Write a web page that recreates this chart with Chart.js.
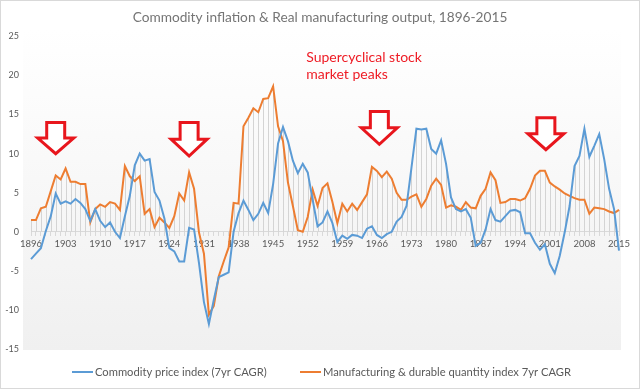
<!DOCTYPE html>
<html>
<head>
<meta charset="utf-8">
<style>
  body { margin: 0; background: #fff; }
  #wrap { width: 640px; height: 389px; position: relative; }
</style>
</head>
<body>
<div id="wrap">
    <canvas id="myChart"></canvas>
</div>

<script src="https://cdn.jsdelivr.net/npm/chart.js@4.4.1/dist/chart.umd.min.js"></script>

<script>
    // years 1896..2015
    var years = [];
    for (var y = 1896; y <= 2015; y++) years.push(String(y));

    // Commodity price index, 7yr CAGR (%)
    var commodity = [
        -3.5, -2.8, -2.1, 0.1, 2.0, 4.9, 3.6, 3.9, 3.6, 4.2,
        3.7, 2.9, 1.4, 2.9, 1.4, 0.6, 1.2, 0.0, -0.8, 2.0,
        4.6, 8.5, 10.0, 9.1, 9.3, 5.1, 4.0, 1.7, -2.1, -2.5,
        -3.8, -3.8, 0.5, 0.3, -4.0, -9.0, -11.8, -8.7, -5.8, -5.5,
        -5.2, 0.0, 2.4, 4.0, 2.8, 1.5, 2.3, 3.7, 2.4, 6.1,
        11.3, 13.4, 11.6, 9.1, 7.5, 8.7, 7.6, 4.1, 0.7, 1.2,
        2.6, 1.1, -1.3, -0.5, -0.9, -0.4, -0.5, -0.8, 0.4, 0.7,
        -0.4, -0.8, -0.3, 0.0, 1.3, 1.9, 3.3, 8.2, 13.2, 13.1,
        13.2, 10.6, 10.0, 11.7, 8.7, 4.4, 2.9, 2.6, 2.9, 1.8,
        -1.8, -1.4, 0.3, 2.9, 1.5, 1.3, 2.0, 2.7, 2.8, 2.5,
        -0.2, -0.2, -1.4, -2.3, -1.6, -4.1, -5.3, -3.1, -0.1, 3.3,
        8.4, 9.7, 13.2, 9.6, 11.0, 12.5, 9.3, 5.5, 2.9, -2.4
    ];

    // Manufacturing & durable quantity index, 7yr CAGR (%)
    var manufacturing = [
        1.5, 1.5, 3.0, 3.2, 5.2, 7.2, 6.7, 8.1, 6.4, 6.4,
        6.1, 6.1, 1.2, 2.9, 3.5, 3.2, 3.8, 3.6, 2.8, 8.4,
        7.1, 6.5, 7.1, 2.3, 2.9, 0.6, 1.8, 1.2, 0.5, 2.0,
        4.9, 4.0, 7.6, 5.5, -0.1, -2.8, -10.6, -9.5, -5.7, -3.8,
        -2.0, 3.7, 3.6, 13.5, 14.6, 15.8, 15.3, 17.0, 17.1, 18.6,
        13.5, 11.6, 6.3, 3.3, 0.2, 0.0, 1.9, 5.4, 3.3, 5.6,
        6.2, 3.8, 1.1, 3.6, 2.6, 3.6, 2.8, 3.8, 4.8, 8.3,
        7.8, 7.0, 7.7, 6.8, 5.0, 4.1, 4.1, 4.5, 4.8, 3.2,
        4.2, 5.9, 6.8, 6.0, 3.1, 3.4, 3.2, 2.8, 3.8, 3.1,
        3.0, 4.6, 5.5, 7.6, 6.6, 3.7, 3.8, 4.2, 4.2, 4.0,
        4.3, 5.5, 7.2, 7.8, 7.8, 6.3, 5.8, 5.4, 4.9, 4.6,
        4.3, 4.1, 4.1, 2.3, 3.1, 3.0, 2.9, 2.6, 2.4, 2.8
    ];

    var yTicks = [-15, -10, -5, 0, 5, 10, 15, 20, 25];

    // stock market peak arrows: index position (years from 1896), top value, tip value
    var peakIdx = [5, 32, 70.5, 104.2];
    var peakTop = [14.0, 14.0, 15.4, 14.6];
    var peakTip = [10.0, 9.7, 11.2, 10.5];

    var FONT = "Lato, 'Open Sans', sans-serif";

    var backdropPlugin = {
        id: 'backdropPlugin',
        beforeDraw: function (chart) {
            var ctx = chart.ctx, a = chart.chartArea;
            ctx.save();
            ctx.fillStyle = '#ffffff';
            ctx.fillRect(0, 0, chart.width, chart.height);
            var top = a.top - 8, bottom = a.bottom + 1;
            var g = ctx.createLinearGradient(0, top, 0, bottom);
            g.addColorStop(0, '#ffffff');
            g.addColorStop(1, '#f0f0f0');
            ctx.fillStyle = g;
            ctx.fillRect(a.left - 8, top, a.right - a.left + 10, bottom - top);
            ctx.strokeStyle = '#d9d9d9';
            ctx.lineWidth = 1;
            ctx.strokeRect(0.5, 0.5, chart.width - 1, chart.height - 1);
            ctx.restore();
        }
    };

    // drop lines from the higher series down to the zero axis
    var dropLinePlugin = {
        id: 'dropLinePlugin',
        beforeDatasetsDraw: function (chart) {
            var xs = chart.scales['x'], ys = chart.scales['y'];
            var ctx = chart.ctx;
            var y0 = ys.getPixelForValue(0);
            ctx.save();
            ctx.strokeStyle = '#d4d4d4';
            ctx.lineWidth = 1;
            ctx.beginPath();
            for (var i = 0; i < years.length; i++) {
                var m = Math.max(commodity[i], manufacturing[i]);
                if (m <= 0) continue;
                var x = Math.round(xs.getPixelForValue(i)) + 0.5;
                ctx.moveTo(x, ys.getPixelForValue(m));
                ctx.lineTo(x, y0);
            }
            ctx.stroke();
            ctx.restore();
        }
    };

    var notePlugin = {
        id: 'notePlugin',
        afterDatasetsDraw: function (chart) {
            var xs = chart.scales['x'], ys = chart.scales['y'];
            var ctx = chart.ctx;
            ctx.save();
            // arrows
            ctx.lineWidth = 3;
            ctx.strokeStyle = '#e8161d';
            ctx.fillStyle = '#ffffff';
            ctx.lineJoin = 'miter';
            for (var k = 0; k < peakIdx.length; k++) {
                var cx = xs.getPixelForValue(peakIdx[k]);
                var t = ys.getPixelForValue(peakTop[k]);
                var b = ys.getPixelForValue(peakTip[k]);
                var w = t + (b - t) * 0.5;
                ctx.beginPath();
                ctx.moveTo(cx - 9, t);
                ctx.lineTo(cx + 9, t);
                ctx.lineTo(cx + 9, w);
                ctx.lineTo(cx + 18, w);
                ctx.lineTo(cx, b);
                ctx.lineTo(cx - 18, w);
                ctx.lineTo(cx - 9, w);
                ctx.closePath();
                ctx.fill();
                ctx.stroke();
            }
            // annotation text
            ctx.fillStyle = '#ee1c25';
            ctx.font = '14px ' + FONT;
            ctx.textAlign = 'left';
            ctx.textBaseline = 'middle';
            var tx = xs.getPixelForValue(55.7);
            ctx.fillText('Supercyclical stock', tx, ys.getPixelForValue(22.3));
            ctx.fillText('market peaks', tx, ys.getPixelForValue(20.1));
            ctx.restore();
        }
    };

    // legend drawn below the plot, line sample + label for each dataset
    var legendX = [72, 300];
    var legendPlugin = {
        id: 'legendPlugin',
        afterDraw: function (chart) {
            var ctx = chart.ctx;
            var ly = 372;
            ctx.save();
            ctx.font = '11.2px ' + FONT;
            ctx.textAlign = 'left';
            ctx.textBaseline = 'middle';
            chart.data.datasets.forEach(function (d, i) {
                ctx.strokeStyle = d.borderColor;
                ctx.lineWidth = 2;
                ctx.beginPath();
                ctx.moveTo(legendX[i], ly);
                ctx.lineTo(legendX[i] + 21, ly);
                ctx.stroke();
                ctx.fillStyle = '#595959';
                ctx.fillText(d.label, legendX[i] + 23, ly);
            });
            ctx.restore();
        }
    };

    const ctx = document.getElementById('myChart');

    new Chart(ctx, {
        type: 'line',
        data: {
            labels: years,
            datasets: [{
                label: 'Commodity price index (7yr CAGR)',
                data: commodity,
                borderColor: '#5b9bd5',
                backgroundColor: '#5b9bd5',
                borderWidth: 2,
                pointRadius: 0,
                tension: 0
            }, {
                label: 'Manufacturing & durable quantity index 7yr CAGR',
                data: manufacturing,
                borderColor: '#ed7d31',
                backgroundColor: '#ed7d31',
                borderWidth: 2,
                pointRadius: 0,
                tension: 0
            }]
        },
        options: {
            responsive: true,
            maintainAspectRatio: false,
            animation: false,
            layout: { padding: { left: 0, right: 0, bottom: 40 } },
            scales: {
                x: {
                    type: 'category',
                    position: { y: 0 },
                    offset: false,
                    grid: { drawOnChartArea: false, drawTicks: true, tickLength: 4, color: '#d9d9d9' },
                    border: { display: true, color: '#d9d9d9' },
                    ticks: {
                        autoSkip: false,
                        maxRotation: 0,
                        padding: 2,
                        color: '#595959',
                        font: { family: FONT, size: 9.5 },
                        callback: function (v, i) { return i % 7 === 0 ? years[i] : ''; }
                    }
                },
                y: {
                    min: -15,
                    max: 25,
                    afterBuildTicks: function (scale) {
                        scale.ticks = yTicks.map(function (v) { return { value: v }; });
                    },
                    afterFit: function (scale) { scale.width = 31; },
                    grid: { display: false, drawTicks: false },
                    border: { display: false },
                    ticks: {
                        padding: 12,
                        color: '#595959',
                        font: { family: FONT, size: 9 }
                    }
                },
                // empty right-hand spacer so the plot ends where the reference does
                yRight: {
                    position: 'right',
                    min: -15,
                    max: 25,
                    afterFit: function (scale) { scale.width = 21; },
                    grid: { display: false, drawTicks: false },
                    border: { display: false },
                    ticks: { display: false }
                }
            },
            plugins: {
                title: {
                    display: true,
                    text: 'Commodity inflation & Real manufacturing output, 1896-2015',
                    color: '#757575',
                    font: { family: FONT, size: 13.7, weight: 'normal' },
                    padding: { top: 9, bottom: 11 }
                },
                legend: { display: false },
                tooltip: { enabled: false }
            }
        },
        plugins: [backdropPlugin, dropLinePlugin, notePlugin, legendPlugin]
    });
</script>
</body>
</html>
